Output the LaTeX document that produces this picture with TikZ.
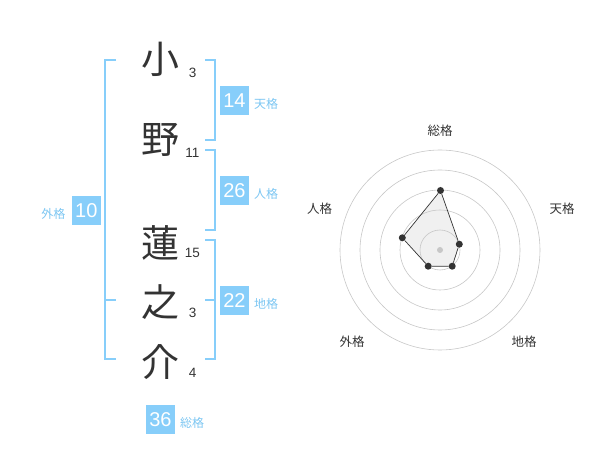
\documentclass[tikz,border=0pt]{standalone}
\usepackage{fontspec}
\setmainfont{Liberation Sans}
\newfontfamily\cjk{Noto Sans CJK JP}
\definecolor{kakublue}{HTML}{87CEFA}
\definecolor{kakutext}{HTML}{7CC6F2}
\definecolor{inkgray}{HTML}{333333}
\begin{document}
\begin{tikzpicture}[
        x=1pt, y=-1pt,
        kanji/.style={font=\cjk\fontsize{38}{38}\selectfont, text=inkgray, inner sep=0pt},
        strokes/.style={font=\fontsize{13.5}{13.5}\selectfont, text=inkgray, inner sep=0pt},
        score/.style={fill=kakublue, text=white, minimum size=29pt, inner sep=0pt, font=\fontsize{20}{20}\selectfont},
        kaku/.style={text=kakutext, font=\cjk\fontsize{12}{12}\selectfont, inner sep=0pt},
        bracket/.style={draw=kakublue, line width=2pt},
        ring/.style={draw=black!22, line width=0.6pt},
        axis/.style={text=inkgray, font=\cjk\fontsize{12.5}{12.5}\selectfont, inner sep=0pt},
        dot/.style={circle, fill=inkgray, minimum size=7pt, inner sep=0pt},
        edge/.style={draw=inkgray, line width=0.7pt}
    ]
        \useasboundingbox (0,0) rectangle (600,470);

        % name characters and stroke counts
        \node[kanji] (c1) at (160.5, 59.5) {小};
        \node[kanji] (c2) at (160.5, 140) {野};
        \node[kanji] (c3) at (160.5, 243) {蓮};
        \node[kanji] (c4) at (160.5, 302) {之};
        \node[kanji] (c5) at (160.5, 362) {介};
        \node[strokes] (s1) at (192.7, 72.7) {3};
        \node[strokes] (s2) at (192.3, 153.3) {11};
        \node[strokes] (s3) at (192.3, 253.3) {15};
        \node[strokes] (s4) at (192.7, 313.3) {3};
        \node[strokes] (s5) at (192.7, 373.3) {4};

        % brackets
        \draw[bracket] (116, 60) -| (105, 359.5) -- (116, 359.5);
        \draw[bracket] (105, 300) -- (116, 300);
        \draw[bracket] (205, 60) -| (214.5, 140) -- (205, 140);
        \draw[bracket] (205, 150) -| (214.5, 230) -- (205, 230);
        \draw[bracket] (205, 240) -| (214.5, 359.5) -- (205, 359.5);
        \draw[bracket] (205, 300) -- (214.5, 300);

        % scores
        \node[score] (ten) at (234.5, 100.3) {14};
        \node[kaku, anchor=west] (ten_l) at (254, 104) {天格};
        \node[score] (jin) at (234.5, 190.3) {26};
        \node[kaku, anchor=west] (jin_l) at (254, 194) {人格};
        \node[score] (chi) at (234.5, 300.3) {22};
        \node[kaku, anchor=west] (chi_l) at (254, 304) {地格};
        \node[score] (gai) at (86.3, 210.3) {10};
        \node[kaku, anchor=east] (gai_l) at (65.5, 213.5) {外格};
        \node[score] (sou) at (160.5, 419.3) {36};
        \node[kaku, anchor=west] (sou_l) at (180, 422.7) {総格};

        % radar chart
        \coordinate (c) at (440, 250);
        \coordinate (v_sou) at (440.5, 190.5);
        \coordinate (v_ten) at (459.3, 244.2);
        \coordinate (v_chi) at (452.2, 266.2);
        \coordinate (v_gai) at (428.2, 266.2);
        \coordinate (v_jin) at (402.3, 237.8);
        \fill[black!6] (v_sou) -- (v_ten) -- (v_chi) -- (v_gai) -- (v_jin) -- cycle;
        \foreach \r in {20, 40, 60, 80, 100}
            \draw[ring] (c) circle[radius=\r];
        \node[circle, fill=black!22, minimum size=6pt, inner sep=0pt] (mid) at (c) {};
        \node[dot] (p_sou) at (v_sou) {};
        \node[dot] (p_ten) at (v_ten) {};
        \node[dot] (p_chi) at (v_chi) {};
        \node[dot] (p_gai) at (v_gai) {};
        \node[dot] (p_jin) at (v_jin) {};
        \draw[edge] (p_sou) -- (p_ten) -- (p_chi) -- (p_gai) -- (p_jin) -- (p_sou);

        \node[axis] (a_sou) at (440, 131) {総格};
        \node[axis] (a_ten) at (562, 208.5) {天格};
        \node[axis] (a_chi) at (524, 342) {地格};
        \node[axis] (a_gai) at (352, 342) {外格};
        \node[axis] (a_jin) at (319.5, 208.5) {人格};
    \end{tikzpicture}
\end{document}
